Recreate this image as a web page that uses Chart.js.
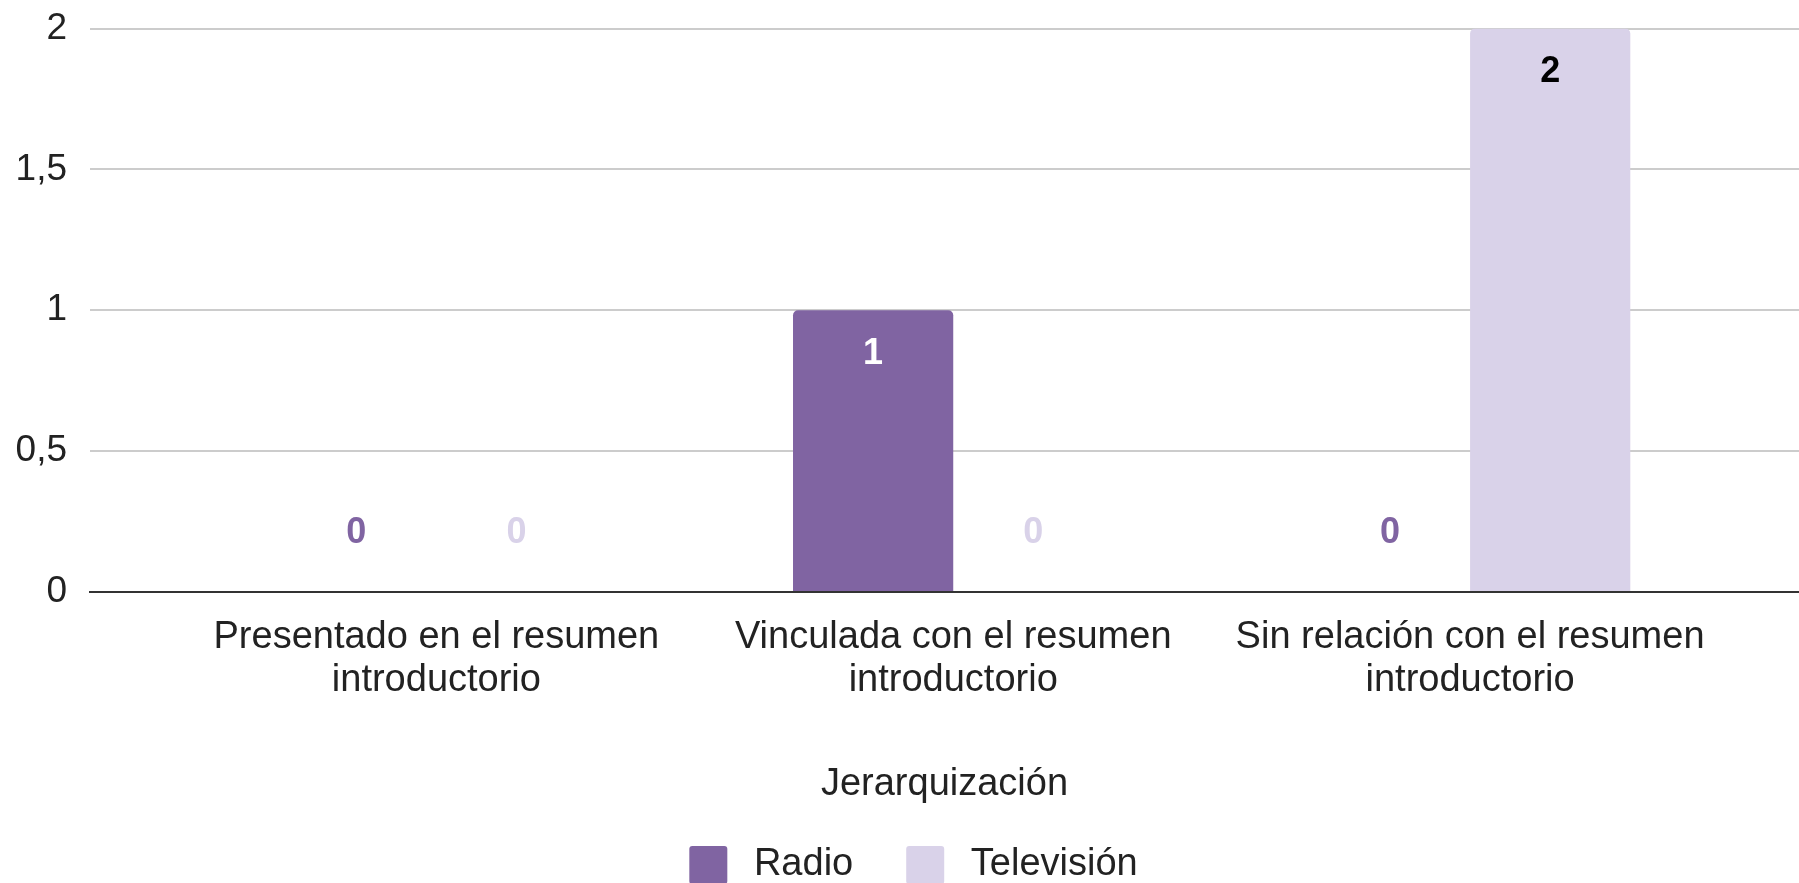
<!DOCTYPE html>
<html>
<head>
<meta charset="utf-8">
<script src="https://cdn.jsdelivr.net/npm/chart.js@4/dist/chart.umd.min.js"></script>
<style>
  body { margin: 0; background: #fff; }
  canvas { display: block; }
</style>
</head>
<body>
<canvas id="graph" width="1799" height="883"></canvas>
<script>
const categories = [
    ['Presentado en el resumen', 'introductorio'],
    ['Vinculada con el resumen', 'introductorio'],
    ['Sin relación con el resumen', 'introductorio']
];
const radioValues = [0, 1, 0];
const tvValues = [0, 0, 2];
const yTicks = [0, 0.5, 1, 1.5, 2];

const radioColor = '#8064a2';
const tvColor = '#d9d2e9';
const font = "'Liberation Sans', Arial, sans-serif";

// etichette con il valore di ogni barra
const barLabels = {
    id: 'barLabels',
    afterLayout(chart) {
        // sposta un po' la legenda verso destra
        chart.legend.left += 14;
        chart.legend.right += 14;
    },
    afterDatasetsDraw(chart) {
        const ctx = chart.ctx;
        ctx.save();
        ctx.font = 'bold 36px ' + font;
        ctx.textAlign = 'center';
        ctx.textBaseline = 'middle';
        chart.data.datasets.forEach((ds, di) => {
            const meta = chart.getDatasetMeta(di);
            meta.data.forEach((bar, i) => {
                const v = ds.data[i].y;
                let y;
                if (v > 0) {
                    y = bar.y + 44;
                    ctx.fillStyle = di === 0 ? '#ffffff' : '#000000';
                } else {
                    y = bar.base - 59;
                    ctx.fillStyle = ds.backgroundColor;
                }
                ctx.fillText(String(v), bar.x, y);
            });
        });
        ctx.restore();
    }
};

const graph = document.getElementById('graph').getContext('2d');
new Chart(graph, {
    type: 'bar',
    data: {
        datasets: [{
            label: 'Radio',
            data: radioValues.map((v, i) => ({ x: i, y: v })),
            backgroundColor: radioColor,
            borderRadius: 5,
            categoryPercentage: 0.62,
            barPercentage: 1
        }, {
            label: 'Televisión',
            data: tvValues.map((v, i) => ({ x: i, y: v })),
            backgroundColor: tvColor,
            borderRadius: 5,
            categoryPercentage: 0.62,
            barPercentage: 1
        }]
    },
    options: {
        responsive: false,
        animation: false,
        devicePixelRatio: 1,
        layout: { padding: { top: 28.5, right: 0, left: 0, bottom: -11 } },
        plugins: {
            tooltip: { enabled: false },
            legend: {
                position: 'bottom',
                labels: {
                    color: '#222',
                    font: { family: font, size: 38 },
                    boxWidth: 38,
                    boxHeight: 38,
                    useBorderRadius: true,
                    borderRadius: 3,
                    padding: 53,
                    generateLabels: chart => Chart.defaults.plugins.legend.labels.generateLabels(chart)
                        .map(l => Object.assign(l, { text: '\u2009' + l.text }))
                }
            }
        },
        scales: {
            x: {
                type: 'linear',
                offset: false,
                min: -0.6702,
                max: 2.6364,
                afterFit: scale => { scale.height = 201; },
                grid: { display: false, drawTicks: false },
                border: { color: '#333', width: 2 },
                afterBuildTicks: scale => {
                    scale.ticks = categories.map((c, i) => ({ value: i }));
                },
                ticks: {
                    autoSkip: false,
                    maxRotation: 0,
                    padding: 24,
                    color: '#222',
                    font: { family: font, size: 38, lineHeight: 1.14 },
                    callback: value => categories[value]
                },
                title: {
                    display: true,
                    text: 'Jerarquización',
                    color: '#222',
                    font: { family: font, size: 38 },
                    padding: { top: 0, bottom: -14 }
                }
            },
            y: {
                min: 0,
                max: 2,
                afterFit: scale => { scale.width = 90; },
                afterBuildTicks: scale => {
                    scale.ticks = yTicks.map(v => ({ value: v }));
                },
                grid: {
                    drawTicks: false,
                    color: c => c.tick && c.tick.value === 0 ? '#333' : '#cccccc',
                    lineWidth: 2
                },
                border: { display: false },
                ticks: {
                    padding: 23,
                    color: '#222',
                    font: { family: font, size: 37, lineHeight: 0.3 },
                    callback: value => String(value).replace('.', ',')
                }
            }
        }
    },
    plugins: [barLabels]
});
</script>
</body>
</html>
